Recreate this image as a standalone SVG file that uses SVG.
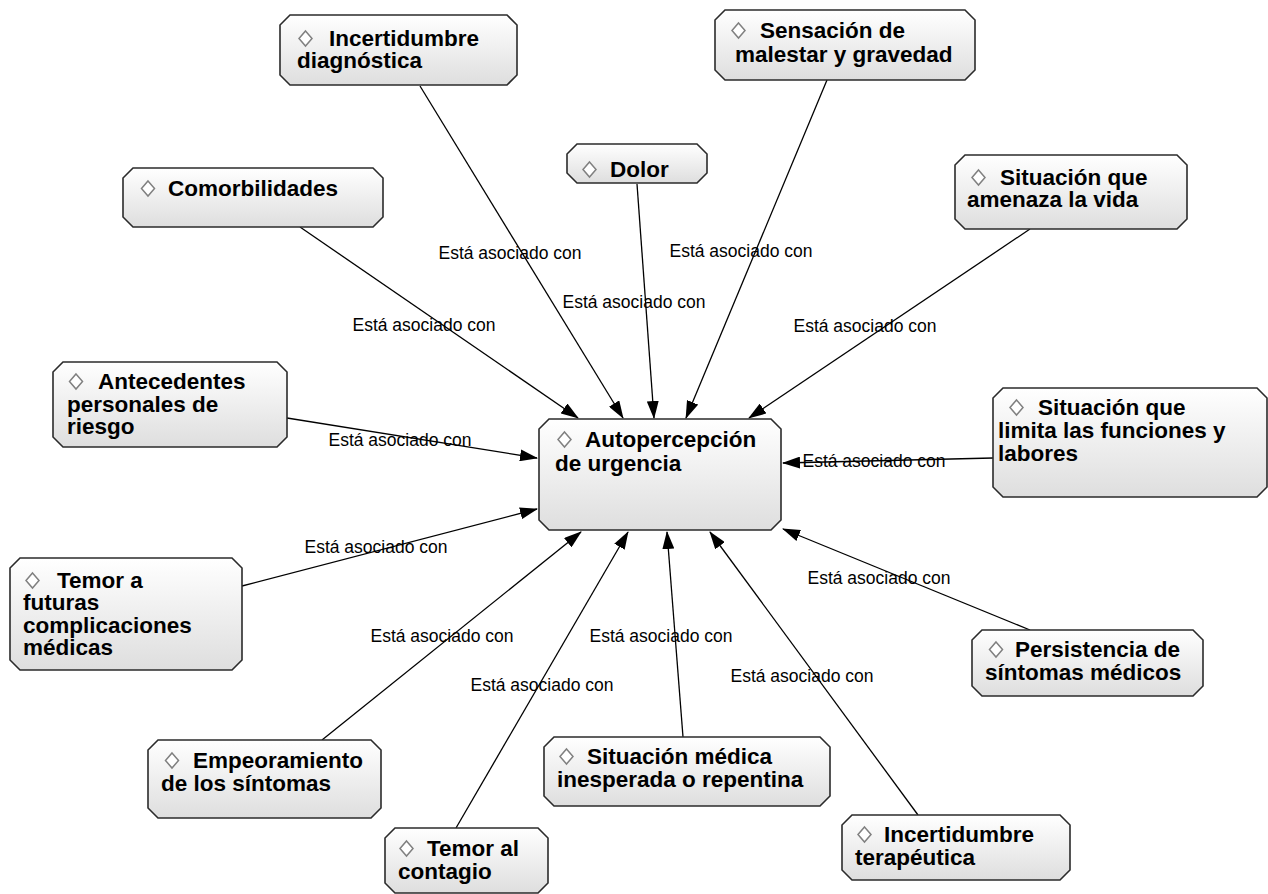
<svg xmlns="http://www.w3.org/2000/svg" width="1268" height="894" viewBox="0 0 1268 894">
<defs>
<linearGradient id="g" x1="0" y1="0" x2="0" y2="1">
<stop offset="0" stop-color="#ffffff"/>
<stop offset="1" stop-color="#dedede"/>
</linearGradient>
<marker id="ah" markerWidth="18" markerHeight="12" refX="17" refY="6" orient="auto" markerUnits="userSpaceOnUse">
<path d="M0,0 L18,6 L0,12 Z" fill="#000"/>
</marker>
<style>
.box{fill:url(#g);stroke:#2b2b2b;stroke-width:1.6}
.dm{fill:#fff;stroke:#808080;stroke-width:1.5}
.t{font-family:"Liberation Sans",Arial,Helvetica,sans-serif;font-weight:bold;font-size:22.5px;fill:#000}
.e{stroke:#000;stroke-width:1.3;fill:none;marker-end:url(#ah)}
.l{font-family:"Liberation Sans",Arial,Helvetica,sans-serif;font-size:17.5px;fill:#000;text-anchor:middle}
</style>
</defs>
<rect width="1268" height="894" fill="#fff"/>

<g id="connectors">
<line class="e" x1="420" y1="86" x2="623" y2="418"/>
<line class="e" x1="827" y1="80" x2="686" y2="418"/>
<line class="e" x1="637" y1="184" x2="654" y2="418"/>
<line class="e" x1="300" y1="227" x2="578" y2="418"/>
<line class="e" x1="1030" y1="229" x2="749" y2="418"/>
<line class="e" x1="287" y1="418" x2="537" y2="458"/>
<line class="e" x1="993" y1="458" x2="783" y2="463"/>
<line class="e" x1="242" y1="586" x2="537" y2="509"/>
<line class="e" x1="1030" y1="630" x2="783" y2="529"/>
<line class="e" x1="322" y1="740" x2="581" y2="532"/>
<line class="e" x1="683" y1="737" x2="667" y2="532"/>
<line class="e" x1="456" y1="828" x2="628" y2="532"/>
<line class="e" x1="918" y1="815" x2="710" y2="532"/>
<text class="l" x="510" y="259">Está asociado con</text>
<text class="l" x="741" y="257">Está asociado con</text>
<text class="l" x="634" y="308">Está asociado con</text>
<text class="l" x="424" y="331">Está asociado con</text>
<text class="l" x="865" y="332">Está asociado con</text>
<text class="l" x="400" y="446">Está asociado con</text>
<text class="l" x="874" y="467">Está asociado con</text>
<text class="l" x="376" y="553">Está asociado con</text>
<text class="l" x="879" y="584">Está asociado con</text>
<text class="l" x="442" y="642">Está asociado con</text>
<text class="l" x="661" y="642">Está asociado con</text>
<text class="l" x="542" y="691">Está asociado con</text>
<text class="l" x="802" y="682">Está asociado con</text>
</g>

<g id="n-center">
<path class="box" d="M549,419 H771 L781,429 V520 L771,530 H549 L539,520 V429 Z"/>
<polygon class="dm" points="564.5,432 571,439.5 564.5,447 558,439.5"/>
<text class="t"><tspan x="585" y="447">Autopercepción</tspan><tspan x="555" y="471">de urgencia</tspan></text>
</g>

<g id="n-incert-diag">
<path class="box" d="M290,15 H507 L517,25 V75 L507,85 H290 L280,75 V25 Z"/>
<polygon class="dm" points="305.5,31 312,38.5 305.5,46 299,38.5"/>
<text class="t"><tspan x="329" y="46">Incertidumbre</tspan><tspan x="297" y="68">diagnóstica</tspan></text>
</g>

<g id="n-sensacion">
<path class="box" d="M725,10 H965 L975,20 V70 L965,80 H725 L715,70 V20 Z"/>
<polygon class="dm" points="738.5,23 745,30.5 738.5,38 732,30.5"/>
<text class="t"><tspan x="760" y="38">Sensación de</tspan><tspan x="735" y="62">malestar y gravedad</tspan></text>
</g>

<g id="n-dolor">
<path class="box" d="M577,144 H697 L707,154 V173 L697,183 H577 L567,173 V154 Z"/>
<polygon class="dm" points="589.5,162 596,169.5 589.5,177 583,169.5"/>
<text class="t"><tspan x="610" y="177">Dolor</tspan></text>
</g>

<g id="n-comorb">
<path class="box" d="M133,168 H373 L383,178 V217 L373,227 H133 L123,217 V178 Z"/>
<polygon class="dm" points="148,181 154.5,188.5 148,196 141.5,188.5"/>
<text class="t"><tspan x="168" y="196">Comorbilidades</tspan></text>
</g>

<g id="n-amenaza">
<path class="box" d="M965,155 H1177 L1187,165 V219 L1177,229 H965 L955,219 V165 Z"/>
<polygon class="dm" points="978.5,170 985,177.5 978.5,185 972,177.5"/>
<text class="t"><tspan x="1000" y="185">Situación que</tspan><tspan x="967" y="207">amenaza la vida</tspan></text>
</g>

<g id="n-antecedentes">
<path class="box" d="M63,362 H277 L287,372 V437 L277,447 H63 L53,437 V372 Z"/>
<polygon class="dm" points="76,374 82.5,381.5 76,389 69.5,381.5"/>
<text class="t"><tspan x="98" y="389">Antecedentes</tspan><tspan x="67" y="412">personales de</tspan><tspan x="67" y="434">riesgo</tspan></text>
</g>

<g id="n-limita">
<path class="box" d="M1003,388 H1257 L1267,398 V487 L1257,497 H1003 L993,487 V398 Z"/>
<polygon class="dm" points="1016.5,400 1023,407.5 1016.5,415 1010,407.5"/>
<text class="t"><tspan x="1038" y="415">Situación que</tspan><tspan x="998" y="438">limita las funciones y</tspan><tspan x="998" y="461">labores</tspan></text>
</g>

<g id="n-temor-futuras">
<path class="box" d="M20,558 H232 L242,568 V660 L232,670 H20 L10,660 V568 Z"/>
<polygon class="dm" points="32.5,573 39,580.5 32.5,588 26,580.5"/>
<text class="t"><tspan x="57" y="588">Temor a</tspan><tspan x="23" y="610">futuras</tspan><tspan x="23" y="633">complicaciones</tspan><tspan x="23" y="655">médicas</tspan></text>
</g>

<g id="n-persistencia">
<path class="box" d="M982,630 H1193 L1203,640 V686 L1193,696 H982 L972,686 V640 Z"/>
<polygon class="dm" points="996,642 1002.5,649.5 996,657 989.5,649.5"/>
<text class="t"><tspan x="1015" y="657">Persistencia de</tspan><tspan x="985" y="680">síntomas médicos</tspan></text>
</g>

<g id="n-empeoramiento">
<path class="box" d="M158,740 H371 L381,750 V808 L371,818 H158 L148,808 V750 Z"/>
<polygon class="dm" points="172,753 178.5,760.5 172,768 165.5,760.5"/>
<text class="t"><tspan x="193" y="768">Empeoramiento</tspan><tspan x="161" y="791">de los síntomas</tspan></text>
</g>

<g id="n-inesperada">
<path class="box" d="M554,737 H820 L830,747 V796 L820,806 H554 L544,796 V747 Z"/>
<polygon class="dm" points="566.5,749 573,756.5 566.5,764 560,756.5"/>
<text class="t"><tspan x="587" y="764">Situación médica</tspan><tspan x="557" y="787">inesperada o repentina</tspan></text>
</g>

<g id="n-contagio">
<path class="box" d="M395,828 H538 L548,838 V883 L538,893 H395 L385,883 V838 Z"/>
<polygon class="dm" points="406.5,841 413,848.5 406.5,856 400,848.5"/>
<text class="t"><tspan x="427" y="856">Temor al</tspan><tspan x="398" y="879">contagio</tspan></text>
</g>

<g id="n-incert-terap">
<path class="box" d="M852,815 H1060 L1070,825 V870 L1060,880 H852 L842,870 V825 Z"/>
<polygon class="dm" points="864.5,827 871,834.5 864.5,842 858,834.5"/>
<text class="t"><tspan x="884" y="842">Incertidumbre</tspan><tspan x="855" y="865">terapéutica</tspan></text>
</g>
</svg>
